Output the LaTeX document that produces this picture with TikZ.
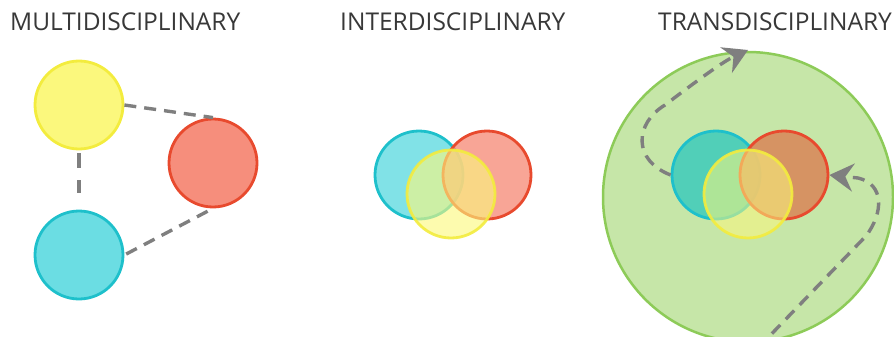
\documentclass[tikz,border=0pt]{standalone}
\usepackage{fontspec}
\setmainfont{Open Sans}
\usetikzlibrary{arrows.meta}
\definecolor{txt}{HTML}{383838}
\definecolor{cyb}{HTML}{1EC0CB}
\definecolor{cyf}{HTML}{6BDDE3}
\definecolor{rdb}{HTML}{E84A2E}
\definecolor{rdf}{HTML}{F68E7C}
\definecolor{ylb}{HTML}{F3EC3E}
\definecolor{ylf}{HTML}{FBF87D}
\definecolor{grb}{HTML}{8DCB58}
\definecolor{grf}{HTML}{C6E6A8}
\definecolor{tcyf}{HTML}{45CDBA}
\definecolor{trdf}{HTML}{D88A5C}
\definecolor{dash}{HTML}{7F7F7F}
\tikzset{
  disc/.style={circle, minimum size=88pt, inner sep=0pt, line width=2.8pt},
  cyc/.style={disc, draw=cyb, fill=cyf},
  rdc/.style={disc, draw=rdb, fill=rdf},
  ylc/.style={disc, draw=ylb, fill=ylf},
  title/.style={anchor=base west, inner sep=0pt, text=txt, font=\fontsize{24.5}{28}\selectfont},
  link/.style={draw=dash, line width=3.4pt, dash pattern=on 12pt off 8pt},
  flow/.style={link, -{Stealth[length=24pt, width=28pt, inset=8pt]}}
}
\begin{document}
\begin{tikzpicture}[x=1pt, y=-1pt]
\useasboundingbox (0,0) rectangle (894,337);
\clip (0,0) rectangle (894,337);
% titles
\node[title] (t1) at (10,31) {MULTIDISCIPLINARY};
\node[title] (t2) at (340,31) {INTERDISCIPLINARY};
\node[title] (t3) at (658,31) {TRANSDISCIPLINARY};
% multidisciplinary
\node[ylc] (my) at (79,105) {};
\node[rdc] (mr) at (213,163) {};
\node[cyc] (mc) at (79,255) {};
\draw[link] (my.east) -- (mr.north);
\draw[link, dash pattern=on 15pt off 12pt, shorten <=3pt, shorten >=17pt] (my.south) -- (mc.north);
\draw[link, shorten <=2pt] (mc.east) -- (mr.south);
% interdisciplinary
\node[cyc, fill opacity=0.85] (ic) at (419,175) {};
\node[rdc, fill opacity=0.8] (ir) at (487,175) {};
\node[ylc, fill opacity=0.62, draw opacity=0.9] (iy) at (451,194) {};
% transdisciplinary
\node[disc, draw=grb, fill=grf, minimum size=290pt, line width=2.5pt] (tg) at (748,197) {};
\node[cyc, fill=tcyf, fill opacity=0.9] (tc) at (716,175) {};
\node[rdc, fill=trdf, fill opacity=0.9] (tr) at (784,175) {};
\node[ylc, fill opacity=0.55, draw opacity=0.9] (ty) at (748,194) {};
\coordinate (a1) at (665,105);
\coordinate (a2) at (748,50);
\draw[flow] (tc.west) .. controls (632,160) and (635,123) .. (a1)
  .. controls (690,86) and (722,62) .. (a2);
\coordinate (b0) at (758,348);
\coordinate (b1) at (866,236);
\coordinate (b2) at (858,178);
\draw[flow] (b0) -- (b1) .. controls (884,212) and (884,184) .. (b2) -- (tr.east);
\end{tikzpicture}
\end{document}
